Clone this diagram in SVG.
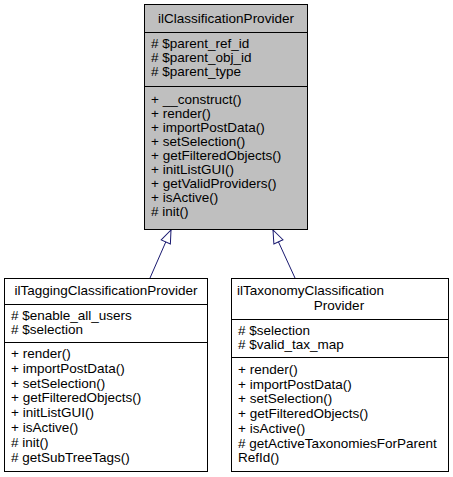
<svg xmlns="http://www.w3.org/2000/svg" width="453" height="477" viewBox="0 0 453 477">
<style>
text{font-family:"Liberation Sans",Arial,sans-serif;font-size:13.5px;fill:#000}
.box{stroke:#000;stroke-width:1}
.sep{stroke:#000;stroke-width:1}
.edge{fill:none;stroke:#191970;stroke-width:1}
.mid{text-anchor:middle}
</style>
<defs>
<marker id="tri" markerWidth="15" markerHeight="12" refX="14" refY="6" orient="auto" markerUnits="userSpaceOnUse" viewBox="0 0 15 12">
<path d="M1,1 L14,6 L1,11 Z" fill="#fff" stroke="#191970" stroke-width="1"/>
</marker>
</defs>
<g id="connectors">
<path class="edge" d="M150,278 L171,230" marker-end="url(#tri)"/>
<path class="edge" d="M295,278 L273,230" marker-end="url(#tri)"/>
</g>
<g id="ilClassificationProvider">
<rect class="box" x="144.5" y="4.5" width="163" height="225" fill="#bfbfbf"/>
<line class="sep" x1="144.5" y1="32.5" x2="307.5" y2="32.5"/>
<line class="sep" x1="144.5" y1="86.5" x2="307.5" y2="86.5"/>
<text class="mid" x="226" y="23">ilClassificationProvider</text>
<text x="151" y="48"># $parent_ref_id</text>
<text x="151" y="62"># $parent_obj_id</text>
<text x="151" y="76"># $parent_type</text>
<text x="151" y="104">+ __construct()</text>
<text x="151" y="118">+ render()</text>
<text x="151" y="132">+ importPostData()</text>
<text x="151" y="146">+ setSelection()</text>
<text x="151" y="160">+ getFilteredObjects()</text>
<text x="151" y="174">+ initListGUI()</text>
<text x="151" y="188">+ getValidProviders()</text>
<text x="151" y="202">+ isActive()</text>
<text x="151" y="216"># init()</text>
</g>
<g id="ilTaggingClassificationProvider">
<rect class="box" x="4.5" y="278.5" width="203" height="193" fill="#fff"/>
<line class="sep" x1="4.5" y1="304.5" x2="207.5" y2="304.5"/>
<line class="sep" x1="4.5" y1="342.5" x2="207.5" y2="342.5"/>
<text class="mid" x="106" y="295">ilTaggingClassificationProvider</text>
<text x="11" y="320"># $enable_all_users</text>
<text x="11" y="334"># $selection</text>
<text x="11" y="358">+ render()</text>
<text x="11" y="372.8">+ importPostData()</text>
<text x="11" y="387.6">+ setSelection()</text>
<text x="11" y="402.4">+ getFilteredObjects()</text>
<text x="11" y="417.2">+ initListGUI()</text>
<text x="11" y="432">+ isActive()</text>
<text x="11" y="446.8"># init()</text>
<text x="11" y="461.6"># getSubTreeTags()</text>
</g>
<g id="ilTaxonomyClassificationProvider">
<rect class="box" x="231.5" y="278.5" width="217" height="193" fill="#fff"/>
<line class="sep" x1="231.5" y1="319.5" x2="448.5" y2="319.5"/>
<line class="sep" x1="231.5" y1="357.5" x2="448.5" y2="357.5"/>
<text x="237" y="295">ilTaxonomyClassification</text>
<text class="mid" x="339" y="310">Provider</text>
<text x="238" y="335"># $selection</text>
<text x="238" y="349"># $valid_tax_map</text>
<text x="238" y="374">+ render()</text>
<text x="238" y="388.7">+ importPostData()</text>
<text x="238" y="403.4">+ setSelection()</text>
<text x="238" y="418.1">+ getFilteredObjects()</text>
<text x="238" y="432.8">+ isActive()</text>
<text x="238" y="447.5"># getActiveTaxonomiesForParent</text>
<text x="238" y="462.2">RefId()</text>
</g>
</svg>
